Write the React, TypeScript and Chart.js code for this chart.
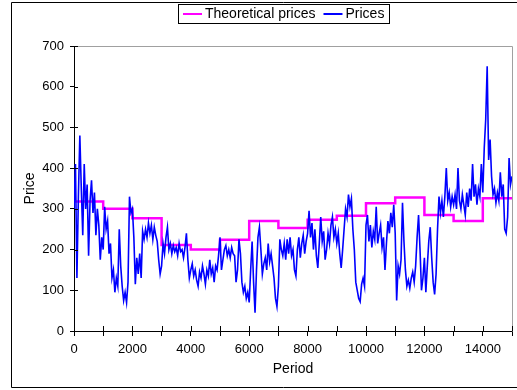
import React, { useEffect, useRef } from "react";
import { Chart, registerables } from "chart.js";

Chart.register(...registerables);

// ---- data ----
const PERIOD_STEP = 50; // spacing (in periods) of the sampled price readings
const priceValues = [
  // 0 - 950
  300, 410, 130, 330, 480, 350, 235, 410, 300, 360, 185, 320, 370, 290, 340, 235, 300, 260, 175, 230,
  // 1000 - 1950
  200, 305, 250, 270, 190, 215, 130, 150, 95, 130, 110, 250, 160, 110, 75, 95, 70, 120, 330, 290,
  // 2000 - 2950
  300, 230, 115, 180, 140, 190, 130, 245, 225, 250, 230, 265, 240, 260, 225, 255, 235, 220, 175, 140,
  // 3000 - 3950
  160, 215, 190, 230, 255, 200, 215, 190, 210, 195, 205, 185, 215, 195, 200, 180, 205, 240, 175, 130,
  // 4000 - 4950
  150, 165, 135, 150, 125, 110, 145, 130, 160, 140, 115, 150, 135, 175, 140, 155, 120, 160, 150, 185,
  // 5000 - 5950
  230, 150, 175, 200, 210, 185, 200, 180, 205, 190, 185, 120, 150, 225, 190, 120, 95, 110, 80, 95,
  // 6000 - 6950
  70, 150, 220, 120, 45, 150, 230, 255, 200, 140, 165, 180, 150, 215, 170, 190, 160, 130, 80, 60,
  // 7000 - 7950
  110, 225, 200, 185, 215, 175, 225, 190, 230, 185, 200, 150, 135, 200, 230, 180, 215, 235, 190, 220,
  // 8000 - 8950
  240, 295, 230, 265, 200, 250, 185, 155, 215, 280, 220, 245, 175, 200, 240, 215, 260, 280, 230, 250,
  // 9000 - 9950
  215, 240, 190, 155, 200, 250, 300, 280, 335, 305, 325, 250, 200, 120, 100, 80, 72, 115, 130, 110,
  // 10000 - 10950
  260, 285, 220, 260, 205, 245, 225, 305, 215, 240, 260, 205, 230, 150, 215, 270, 240, 290, 255, 310,
  // 11000 - 11950
  240, 75, 160, 140, 175, 315, 220, 150, 110, 125, 105, 130, 145, 120, 160, 230, 285, 200, 100, 130,
  // 12000 - 12950
  180, 95, 160, 220, 255, 180, 120, 90, 140, 250, 330, 290, 320, 280, 330, 400, 320, 340, 305, 330,
  // 13000 - 13950
  310, 335, 300, 400, 320, 300, 335, 310, 285, 340, 305, 350, 320, 410, 330, 360, 310, 350, 330, 410,
  // 14000 - 14950
  340, 450, 520, 650, 420, 470, 380, 335, 350, 315, 340, 320, 390, 330, 360, 250, 240, 280, 425, 360,
  // 15000
  380,
];

const theoreticalStarts = [0, 1000, 2000, 3000, 4000, 5000, 6000, 7000, 8000, 9000, 10000, 11000, 12000, 13000, 14000, 15000];
const theoreticalValues = [318, 300, 277, 211, 200, 224, 270, 253, 273, 283, 314, 328, 285, 270, 326, 326];

const seriesLabels = ["Theoretical prices", "Prices"];
const xAxisTitle = "Period";
const yAxisTitle = "Price";
const X_MIN = 0;
const X_MAX = 15000;
const X_STEP = 1000;
const X_LABEL_EVERY = 2000;
const Y_MIN = 0;
const Y_MAX = 700;
const Y_STEP = 100;

// ---- styles ----
const FAMILY = "'Liberation Sans', Arial, sans-serif";
const MAGENTA = "#ff00ff";
const BLUE = "#0000ff";
const CANVAS_W = 557;
const CANVAS_H = 390;
const OUTER_LEFT = 11;

const framePlugin = {
  id: "frameAndTicks",
  beforeDatasetsDraw(chart: any) {
    const { ctx, chartArea } = chart;
    ctx.save();
    ctx.strokeStyle = "#a0a0a0";
    ctx.lineWidth = 1;
    ctx.beginPath();
    ctx.moveTo(Math.round(chartArea.left) + 0.5, Math.round(chartArea.top) + 0.5);
    ctx.lineTo(Math.round(chartArea.right) + 0.5, Math.round(chartArea.top) + 0.5);
    ctx.lineTo(Math.round(chartArea.right) + 0.5, Math.round(chartArea.bottom) + 0.5);
    ctx.stroke();
    ctx.restore();
  },
  afterDraw(chart: any) {
    const { ctx, chartArea, scales } = chart;
    ctx.save();
    ctx.strokeStyle = "#000";
    ctx.lineWidth = 1;
    ctx.beginPath();
    // inward halves of the tick marks
    scales.x.ticks.forEach((t: any) => {
      const px = Math.round(scales.x.getPixelForValue(t.value)) + 0.5;
      ctx.moveTo(px, chartArea.bottom);
      ctx.lineTo(px, chartArea.bottom - 5);
    });
    scales.y.ticks.forEach((t: any) => {
      const py = Math.round(scales.y.getPixelForValue(t.value)) + 0.5;
      ctx.moveTo(chartArea.left, py);
      ctx.lineTo(chartArea.left + 4, py);
    });
    ctx.stroke();

    // outer chart border
    ctx.beginPath();
    ctx.rect(OUTER_LEFT + 0.5, 2.5, chart.width - OUTER_LEFT - 2, chart.height - 5);
    ctx.stroke();

    // legend with a border
    ctx.font = `14px ${FAMILY}`;
    ctx.textBaseline = "middle";
    ctx.textAlign = "left";
    const sample = 19;
    const gap = 3;
    const spacing = 8;
    const padX = 5;
    const items = chart.data.datasets.map((ds: any) => ({
      text: ds.label as string,
      color: ds.borderColor as string,
      w: ctx.measureText(ds.label).width,
    }));
    const inner = items.reduce((s: number, it: any) => s + sample + gap + it.w, 0) + spacing * (items.length - 1);
    const boxW = inner + padX * 2;
    const boxH = 19;
    const cx = (OUTER_LEFT + chart.width) / 2;
    const boxLeft = Math.round(cx - boxW / 2);
    const boxTop = 4;
    const cy = boxTop + boxH / 2 + 0.5;
    ctx.strokeStyle = "#000";
    ctx.strokeRect(boxLeft + 0.5, boxTop + 0.5, Math.round(boxW), boxH);
    let x = boxLeft + padX;
    items.forEach((it: any) => {
      ctx.strokeStyle = it.color;
      ctx.lineWidth = 2;
      ctx.beginPath();
      ctx.moveTo(x, Math.round(cy));
      ctx.lineTo(x + sample, Math.round(cy));
      ctx.stroke();
      x += sample + gap;
      ctx.fillStyle = "#000";
      ctx.fillText(it.text, x, cy);
      x += it.w + spacing;
    });
    ctx.restore();
  },
};

export default function App() {
  const ref = useRef<HTMLCanvasElement>(null);

  useEffect(() => {
    if (!ref.current) return;
    const tickFont = { family: FAMILY, size: 13 };
    const titleFont = { family: FAMILY, size: 14 };
    const chart = new Chart(ref.current, {
      type: "line",
      data: {
        datasets: [
          {
            label: seriesLabels[0],
            data: theoreticalStarts.map((x, i) => ({ x, y: theoreticalValues[i] })),
            borderColor: MAGENTA,
            backgroundColor: MAGENTA,
            borderWidth: 2.5,
            pointRadius: 0,
            stepped: "before",
            order: 1,
          },
          {
            label: seriesLabels[1],
            data: priceValues.map((y, i) => ({ x: i * PERIOD_STEP, y })),
            borderColor: BLUE,
            backgroundColor: BLUE,
            borderWidth: 1.6,
            pointRadius: 0,
            tension: 0,
            order: 0,
          },
        ],
      },
      options: {
        responsive: false,
        animation: false,
        events: [],
        layout: { padding: { left: OUTER_LEFT, right: CANVAS_W - 512, top: 46, bottom: 0 } },
        plugins: { legend: { display: false }, tooltip: { enabled: false } },
        scales: {
          x: {
            type: "linear",
            min: X_MIN,
            max: X_MAX,
            ticks: {
              stepSize: X_STEP,
              autoSkip: false,
              maxRotation: 0,
              color: "#000",
              font: tickFont,
              padding: 6,
              callback: (v: any) => (Number(v) % X_LABEL_EVERY === 0 ? String(v) : ""),
            },
            grid: { drawOnChartArea: false, color: "#000", tickLength: 5 },
            border: { color: "#000", width: 1 },
            title: { display: true, text: xAxisTitle, color: "#000", font: titleFont, padding: { top: 0, bottom: 12 } },
            afterFit: (s: any) => {
              s.height = CANVAS_H - 331;
            },
          },
          y: {
            min: Y_MIN,
            max: Y_MAX,
            ticks: { stepSize: Y_STEP, color: "#000", font: tickFont, padding: 6 },
            grid: { drawOnChartArea: false, color: "#000", tickLength: 4 },
            border: { color: "#000", width: 1 },
            title: { display: true, text: yAxisTitle, color: "#000", font: titleFont, padding: { top: 11, bottom: 0 } },
            afterFit: (s: any) => {
              s.width = 74 - OUTER_LEFT;
            },
          },
        },
      },
      plugins: [framePlugin],
    } as any);
    return () => chart.destroy();
  }, []);

  return (
    <div
      style={{
        position: "fixed",
        left: 0,
        top: 0,
        width: 517,
        height: 390,
        overflow: "hidden",
        background: "#fff",
      }}
    >
      <canvas ref={ref} width={CANVAS_W} height={CANVAS_H} style={{ display: "block", width: CANVAS_W, height: CANVAS_H }} />
    </div>
  );
}
